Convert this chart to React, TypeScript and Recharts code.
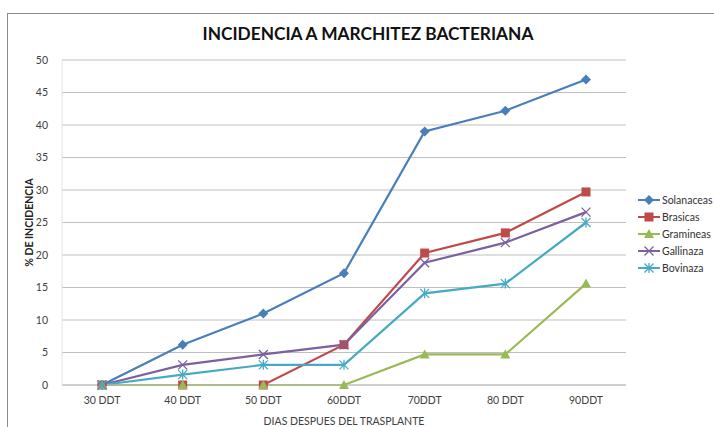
import { LineChart, Line, XAxis, YAxis, CartesianGrid } from "recharts";

const categories = ["30 DDT", "40 DDT", "50 DDT", "60DDT", "70DDT", "80 DDT", "90DDT"];
const solanaceas = [0, 6.2, 11, 17.2, 39, 42.2, 47];
const brasicas = [0, 0, 0, 6.2, 20.3, 23.4, 29.7];
const gramineas = [0, 0, 0, 0, 4.7, 4.7, 15.6];
const gallinaza = [0, 3.1, 4.7, 6.2, 18.8, 21.9, 26.6];
const bovinaza = [0, 1.6, 3.1, 3.1, 14.1, 15.6, 25];
const yTicks = [0, 5, 10, 15, 20, 25, 30, 35, 40, 45, 50];

type Shape = "diamond" | "square" | "triangle" | "x" | "star";

const series: { key: string; name: string; color: string; shape: Shape; values: number[] }[] = [
  { key: "sol", name: "Solanaceas", color: "#4a7ebb", shape: "diamond", values: solanaceas },
  { key: "bra", name: "Brasicas", color: "#be4b48", shape: "square", values: brasicas },
  { key: "gra", name: "Gramineas", color: "#98b954", shape: "triangle", values: gramineas },
  { key: "gal", name: "Gallinaza", color: "#7d60a0", shape: "x", values: gallinaza },
  { key: "bov", name: "Bovinaza", color: "#46aac5", shape: "star", values: bovinaza },
];

const data = categories.map((c, i) => {
  const row: Record<string, string | number> = { cat: c };
  series.forEach((s) => (row[s.key] = s.values[i]));
  return row;
});

const font = "Lato, 'Open Sans', sans-serif";

function Marker({ cx, cy, shape, color }: { cx: number; cy: number; shape: Shape; color: string }) {
  if (cx == null || cy == null) return null;
  switch (shape) {
    case "diamond":
      return <path d={`M${cx},${cy - 5}L${cx + 5},${cy}L${cx},${cy + 5}L${cx - 5},${cy}Z`} fill={color} />;
    case "square":
      return <rect x={cx - 4.5} y={cy - 4.5} width={9} height={9} fill={color} />;
    case "triangle":
      return <path d={`M${cx},${cy - 5}L${cx + 5},${cy + 4}L${cx - 5},${cy + 4}Z`} fill={color} />;
    case "x":
      return (
        <path d={`M${cx - 4.5},${cy - 4.5}L${cx + 4.5},${cy + 4.5}M${cx + 4.5},${cy - 4.5}L${cx - 4.5},${cy + 4.5}`} stroke={color} strokeWidth={1.3} />
      );
    case "star":
      return (
        <path
          d={`M${cx - 4.5},${cy - 4.5}L${cx + 4.5},${cy + 4.5}M${cx + 4.5},${cy - 4.5}L${cx - 4.5},${cy + 4.5}M${cx},${cy - 5}L${cx},${cy + 5}`}
          stroke={color}
          strokeWidth={1.3}
        />
      );
  }
  return null;
}

function LegendBox() {
  return (
    <div style={{ position: "absolute", left: 638, top: 191, fontFamily: font, fontSize: 10.5, color: "#333" }}>
      {series.map((s) => (
        <div key={s.key} style={{ display: "flex", alignItems: "center", height: 17, whiteSpace: "nowrap" }}>
          <svg width={22} height={12} style={{ marginRight: 2 }}>
            <line x1={0} y1={6} x2={22} y2={6} stroke={s.color} strokeWidth={2} />
            <Marker cx={11} cy={6} shape={s.shape} color={s.color} />
          </svg>
          {s.name}
        </div>
      ))}
    </div>
  );
}

export default function App() {
  return (
    <div style={{ position: "absolute", left: 0, top: 0, width: 714, height: 427, overflow: "hidden", background: "#fff" }}>
      <div
        style={{
          position: "absolute",
          left: 7,
          top: 13,
          width: 730,
          height: 440,
          border: "1px solid #8c8c8c",
        }}
      />
      <div
        style={{
          position: "absolute",
          left: 0,
          top: 23,
          width: 736,
          textAlign: "center",
          fontFamily: font,
          fontWeight: 700,
          fontSize: 17.3,
          color: "#111",
        }}
      >
        INCIDENCIA A MARCHITEZ BACTERIANA
      </div>
      <LineChart width={714} height={427} data={data} margin={{ top: 60, right: 88, left: 0, bottom: 0 }} style={{ position: "absolute", left: 0, top: 0 }}>
        <CartesianGrid vertical={false} stroke="#bfbfbf" strokeWidth={1} />
        <XAxis
          dataKey="cat"
          height={42}
          padding={{ left: 40, right: 40 }}
          axisLine={{ stroke: "#bfbfbf" }}
          tickLine={false}
          tickMargin={6}
          tick={{ fontSize: 10.5, fill: "#404040", fontFamily: font }}
          label={{ value: "DIAS DESPUES DEL TRASPLANTE", position: "insideBottom", offset: 2, fontSize: 10.5, fill: "#404040", fontFamily: font }}
        />
        <YAxis
          width={62}
          domain={[0, 50]}
          ticks={yTicks}
          axisLine={{ stroke: "#e4e4e4" }}
          tickLine={false}
          tickMargin={8}
          tick={{ fontSize: 10.5, fill: "#404040", fontFamily: font }}
          label={{ value: "% DE INCIDENCIA", angle: -90, position: "center", dx: -2, fontSize: 10.5, fontWeight: 700, fill: "#222", fontFamily: font }}
        />
        {series.map((s) => (
          <Line
            key={s.key}
            dataKey={s.key}
            name={s.name}
            stroke={s.color}
            strokeWidth={2.2}
            isAnimationActive={false}
            dot={(p: any) => <Marker key={`${s.key}-${p.index}`} cx={p.cx} cy={p.cy} shape={s.shape} color={s.color} />}
            activeDot={false}
          />
        ))}
      </LineChart>
      <LegendBox />
    </div>
  );
}
